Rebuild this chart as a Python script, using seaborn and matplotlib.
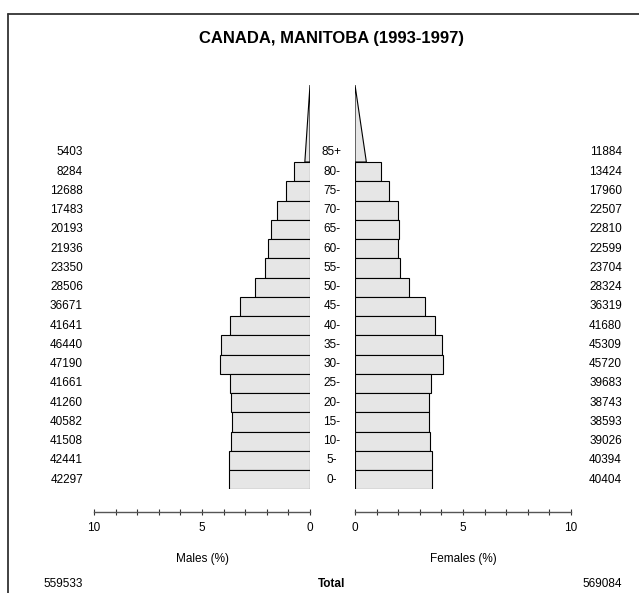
import matplotlib
matplotlib.use("Agg")
import matplotlib.pyplot as plt
import matplotlib.transforms as mtransforms
from matplotlib.patches import Polygon
from matplotlib.lines import Line2D
from matplotlib.ticker import MultipleLocator
import seaborn as sns

sns.set_theme(style="white")
plt.rcParams['font.family'] = ['Liberation Sans', 'DejaVu Sans']
plt.rcParams['text.color'] = 'black'

# Data (youngest group first)
ages = ['0-', '5-', '10-', '15-', '20-', '25-', '30-', '35-', '40-',
        '45-', '50-', '55-', '60-', '65-', '70-', '75-', '80-', '85+']
males = [42297, 42441, 41508, 40582, 41260, 41661, 47190, 46440, 41641,
         36671, 28506, 23350, 21936, 20193, 17483, 12688, 8284, 5403]
females = [40404, 40394, 39026, 38593, 38743, 39683, 45720, 45309, 41680,
           36319, 28324, 23704, 22599, 22810, 22507, 17960, 13424, 11884]
total_males = 559533
total_females = 569084
title = 'CANADA, MANITOBA (1993-1997)'

grand_total = total_males + total_females
male_pct = [m / grand_total * 100 for m in males]
female_pct = [f / grand_total * 100 for f in females]

W, H = 639, 593
BAR_FILL = '#e6e6e6'
FS = 8.5


def fx(px):
    return px / W


def fy(py):
    return 1 - py / H


fig = plt.figure(figsize=(W / 100, H / 100), dpi=100)

top_px, bot_px = 85.0, 489.3
ax_m = fig.add_axes([fx(94), fy(bot_px), (310 - 94) / W, (bot_px - top_px) / H])
ax_f = fig.add_axes([fx(355), fy(bot_px), (571 - 355) / W, (bot_px - top_px) / H])

n = len(ages) - 1  # groups drawn as bars, last one is open-ended
order = ages[n - 1::-1]

for ax, pct in [(ax_m, male_pct), (ax_f, female_pct)]:
    sns.barplot(x=pct[:n], y=ages[:n], order=order, orient='h',
                color=BAR_FILL, saturation=1, edgecolor='black',
                linewidth=0.8, width=1.0, ax=ax)
    # open-ended age group drawn as a triangle of equal area
    v = pct[n]
    tri = Polygon([[0, -0.5], [v / 2, -0.5], [0, -4.5]], closed=True,
                  facecolor=BAR_FILL, edgecolor='black', linewidth=0.8)
    ax.add_patch(tri)
    ax.set_ylim(n - 0.5, -4.5)
    ax.set_yticks([])
    ax.set_ylabel('')
    ax.set_xlabel('')
    ax.set_facecolor('none')
    for s in ['top', 'left', 'right']:
        ax.spines[s].set_visible(False)
    ax.spines['bottom'].set_position(('outward', (512 - bot_px) * 0.72))
    ax.spines['bottom'].set_color('#555555')
    ax.spines['bottom'].set_linewidth(1.0)
    ax.set_xticks([0, 5, 10])
    ax.xaxis.set_minor_locator(MultipleLocator(1))
    ax.tick_params(axis='x', which='both', direction='inout', length=5,
                   width=0.8, color='#333333', labelsize=FS, pad=5,
                   bottom=True, labelcolor='black')

ax_m.set_xlim(10, 0)
ax_f.set_xlim(0, 10)

# age labels and counts
trans = mtransforms.blended_transform_factory(fig.transFigure, ax_m.transData)
for i, age in enumerate(ages):
    pos = (n - 1) - i
    ax_m.text(fx(332), pos, age, transform=trans, ha='center', va='center',
              fontsize=FS, color='black')
    ax_m.text(fx(83), pos, str(males[i]), transform=trans, ha='right',
              va='center', fontsize=FS, color='black')
    ax_m.text(fx(622), pos, str(females[i]), transform=trans, ha='right',
              va='center', fontsize=FS, color='black')

fig.text(fx(202), fy(559), 'Males (%)', ha='center', va='center', fontsize=FS)
fig.text(fx(463), fy(559), 'Females (%)', ha='center', va='center', fontsize=FS)
fig.text(fx(83), fy(584), str(total_males), ha='right', va='center', fontsize=FS)
fig.text(fx(332), fy(584), 'Total', ha='center', va='center', fontsize=FS,
         fontweight='bold')
fig.text(fx(622), fy(584), str(total_females), ha='right', va='center',
         fontsize=FS)

fig.text(fx(332), fy(39), title, ha='center', va='center', fontsize=12,
         fontweight='bold')

# outer frame (left and top edges)
fig.add_artist(Line2D([fx(8), fx(8)], [0, fy(14)], transform=fig.transFigure,
                      color='#333333', linewidth=1.3))
fig.add_artist(Line2D([fx(8), 1], [fy(14), fy(14)], transform=fig.transFigure,
                      color='#333333', linewidth=1.3))

fig.savefig('out.png', dpi=100)
